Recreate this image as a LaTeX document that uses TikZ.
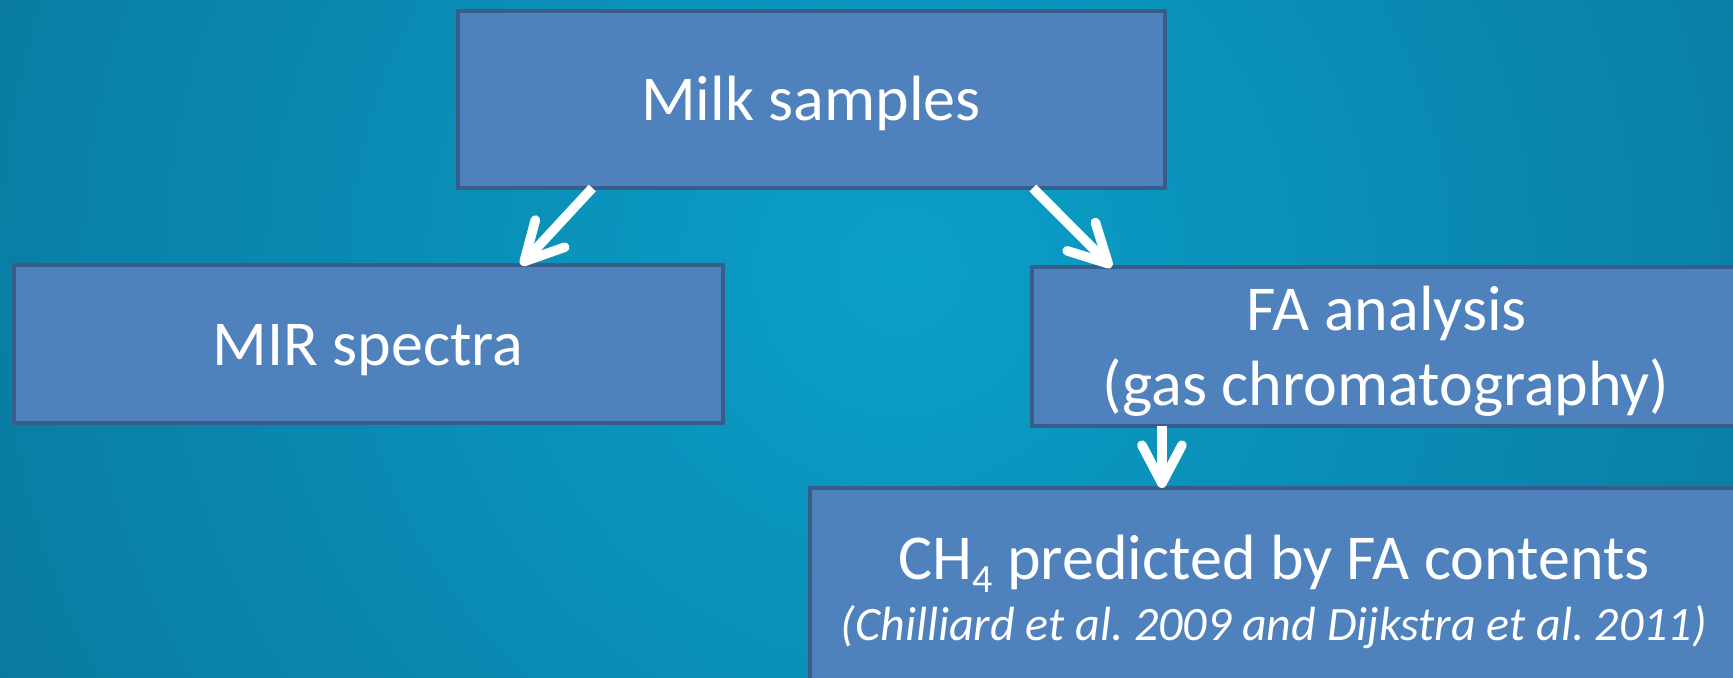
\documentclass[tikz,border=0pt]{standalone}
\usepackage{fontspec}
\setmainfont{Carlito}
\usetikzlibrary{arrows.meta,calc}
\definecolor{bgin}{HTML}{0A9FC8}
\definecolor{bgout}{HTML}{0A5C82}
\definecolor{boxfill}{HTML}{4F81BD}
\definecolor{boxline}{HTML}{385D8A}
\frenchspacing
\begin{document}
\begin{tikzpicture}[x=0.5pt,y=-0.5pt,
  box/.style={draw=boxline, line width=2.2pt, fill=boxfill, inner sep=0pt, outer sep=0pt, rectangle},
  lbl/.style={text=white, anchor=base, inner sep=0pt, font=\fontsize{32}{38}\selectfont},
  cite/.style={text=white, anchor=base, inner sep=0pt, font=\fontsize{24}{29}\selectfont\itshape},
  flow/.style={draw=white, line width=4.8pt, -{Straight Barb[length=19pt,width=20pt,round]}}]
\useasboundingbox (0,0) rectangle (1733,677);
\begin{scope}
\clip (0,0) rectangle (1733,677);
\shade[inner color=bgin, outer color=bgout] (900-1800,270-1800) rectangle (900+1800,270+1800);
\node[box, minimum width=353.5pt, minimum height=88.5pt] (milk) at (811.5,99.5) {};
\node[box, minimum width=354.5pt, minimum height=79pt] (mir) at (368.5,344) {};
\node[box, minimum width=355pt, minimum height=79.5pt] (fa) at (1387,346.5) {};
\node[box, minimum width=464pt, minimum height=115pt] (ch4) at (1274,603) {};
\node[lbl] (tmilk) at (811,120) {Milk samples};
\node[lbl] (tmir) at (368,365) {MIR spectra};
\node[lbl] (tfa1) at (1387,330) {FA analysis};
\node[lbl] (tfa2) at (1386,405) {(gas chromatography)};
\node[lbl] (tch4) at (1274,579) {CH\raisebox{-6.5pt}{\fontsize{20}{20}\selectfont 4} predicted by FA contents};
\node[cite] (tcite) at (1274,640) {(Chilliard et al. 2009 and Dijkstra et al. 2011)};
\draw[flow] ($(milk.south west)!0.19!(milk.south east)$) -- ($(mir.north west)!0.715!(mir.north east)$);
\draw[flow] ($(milk.south west)!0.813!(milk.south east)$) -- ($(fa.north west)!0.112!(fa.north east)$);
\coordinate (d1) at ($(fa.south west)!0.183!(fa.south east)$);
\draw[flow] (d1) -- (d1 |- ch4.north);
\end{scope}
\end{tikzpicture}
\end{document}
